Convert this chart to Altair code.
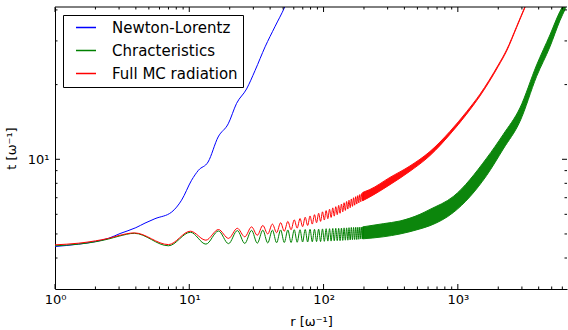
import altair as alt
import pandas as pd

# ---------------- data ----------------
SERIES = ["Newton-Lorentz", "Chracteristics", "Full MC radiation"]
COLORS = ["#0000ff", "#008000", "#ff0000"]

# Newton-Lorentz (blue)
NL_R = [1, 1.5, 2, 2.5, 3.05, 4.0, 4.68, 5.55, 7.4, 8.76, 10.4, 11.7, 13.8,
        16.4, 19.5, 22.5, 26.7, 30.9, 36.7, 43.4, 51.4, 57]
NL_T = [4.45, 4.55, 4.66, 4.8, 5.02, 5.3, 5.53, 5.76, 6.13, 6.84, 8.23, 9.03, 9.75,
        12.3, 13.9, 16.8, 19.2, 22.8, 28.4, 34.2, 41.1, 47]

# common start and oscillation extrema positions (r)
START_R = [1, 1.5, 2, 2.5, 3]
PEAK_R = [3.9, 10.2, 16.5, 22.8, 29.1, 35.3, 41.6, 47.9, 54.2, 60.5, 66.8, 73.0,
          79.3, 85.6, 91.9, 98.2, 104.5, 110.8, 117.1, 123.3, 129.6, 135.9, 142.2,
          148.5, 154.7, 161.0, 167.3, 173.6, 179.9, 186.2, 192.4, 198.7]
TROUGH_R = [7.0, 13.3, 19.6, 25.9, 32.1, 38.4, 44.7, 51.0, 57.3, 63.6, 69.8, 76.1,
            82.4, 88.7, 95.0, 101.3, 107.6, 113.8, 120.1, 126.4, 132.7, 139.0,
            145.3, 151.6, 157.9, 164.2, 170.4, 176.7, 183.0, 189.3, 195.6]

# Chracteristics (green)
CH_START_T = [4.48, 4.55, 4.65, 4.77, 4.9]
CH_PEAK_T = [5.03, 5.08, 5.14, 5.16, 5.17, 5.18, 5.18, 5.19, 5.19, 5.2, 5.2, 5.21,
             5.22, 5.22, 5.23, 5.24, 5.25, 5.25, 5.26, 5.27, 5.27, 5.28, 5.29,
             5.29, 5.30, 5.31, 5.31, 5.32, 5.32, 5.33, 5.33, 5.34]
CH_TROUGH_T = [4.48, 4.55, 4.57, 4.58, 4.59, 4.6, 4.61, 4.62, 4.62, 4.63, 4.64, 4.64,
               4.65, 4.66, 4.66, 4.67, 4.68, 4.68, 4.69, 4.70, 4.70, 4.71, 4.72,
               4.72, 4.73, 4.74, 4.75, 4.75, 4.76, 4.77, 4.78]
CH_BAND_R = [195.6, 278, 371, 522, 620, 925, 1637, 2178, 2900, 3862, 4850, 5755, 6300]
CH_BAND_HI = [5.34, 5.5, 5.64, 6.0, 6.28, 7.08, 10.1, 12.6, 16.1, 24.0, 31.7, 39.4, 43.0]
CH_BAND_LO = [4.78, 4.87, 5.0, 5.24, 5.4, 6.1, 8.6, 11.0, 14.2, 21.6, 28.4, 36.2, 40.3]

# Full MC radiation (red)
MC_START_T = [4.52, 4.59, 4.69, 4.8, 4.93]
MC_PEAK_T = [5.05, 5.13, 5.21, 5.27, 5.34, 5.41, 5.48, 5.55, 5.62, 5.70, 5.77, 5.84,
             5.91, 5.98, 6.06, 6.14, 6.21, 6.29, 6.37, 6.44, 6.52, 6.60, 6.68,
             6.76, 6.84, 6.92, 7.00, 7.07, 7.14, 7.21, 7.28, 7.35]
MC_TROUGH_T = [4.53, 4.72, 4.80, 4.87, 4.94, 5.00, 5.06, 5.13, 5.20, 5.28, 5.35, 5.41,
               5.48, 5.55, 5.62, 5.69, 5.76, 5.83, 5.90, 5.98, 6.06, 6.14, 6.22,
               6.30, 6.38, 6.46, 6.53, 6.60, 6.67, 6.74, 6.81]
MC_BAND_R = [195.6, 221, 312, 440, 620, 873, 1162, 1462, 2000, 2307, 2740, 3160, 3400]
MC_BAND_HI = [7.35, 7.55, 8.45, 9.4, 10.75, 12.95, 15.55, 18.3, 24.0, 27.6, 34.3, 41.2, 45.0]
MC_BAND_LO = [6.81, 7.05, 7.9, 8.95, 10.35, 12.6, 15.2, 18.0, 23.7, 27.3, 34.0, 40.9, 44.7]

# axis ticks
X_MAJOR = [1, 10, 100, 1000]
X_MINOR = [2, 3, 4, 5, 6, 7, 8, 9, 20, 30, 40, 50, 60, 70, 80, 90,
           200, 300, 400, 500, 600, 700, 800, 900, 2000, 3000, 4000, 5000, 6000]
Y_MAJOR = [10]
Y_MINOR = [4, 5, 6, 7, 8, 9, 20, 30, 40]

W, H = 512, 282
FONT = "DejaVu Sans"


def series_df(name, rs, ts):
    d = pd.DataFrame({"r": rs, "t": ts})
    d["series"] = name
    return d.sort_values("r")


lines_df = pd.concat([
    series_df(SERIES[0], NL_R, NL_T),
    series_df(SERIES[1], START_R + PEAK_R + TROUGH_R, CH_START_T + CH_PEAK_T + CH_TROUGH_T),
    series_df(SERIES[2], START_R + PEAK_R + TROUGH_R, MC_START_T + MC_PEAK_T + MC_TROUGH_T),
], ignore_index=True)
ch_band = pd.DataFrame({"r": CH_BAND_R, "hi": CH_BAND_HI, "lo": CH_BAND_LO})
mc_band = pd.DataFrame({"r": MC_BAND_R, "hi": MC_BAND_HI, "lo": MC_BAND_LO})

xs = alt.Scale(type="log", domain=[1, 6500], nice=False)
ys = alt.Scale(type="log", domain=[3, 41.1], nice=False)
cs = alt.Scale(domain=SERIES, range=COLORS)

x_axis = alt.Axis(
    values=X_MAJOR,
    labelExpr="datum.value == 1 ? '10⁰' : datum.value == 10 ? '10¹' : datum.value == 100 ? '10²' : '10³'",
    ticks=False, grid=False, domain=True, domainColor="black", domainWidth=1,
    labelFlush=False, labelOverlap=False, labelPadding=4,
    title="r [ω⁻¹]", titlePadding=9,
)
y_axis = alt.Axis(
    values=Y_MAJOR, labelExpr="'10¹'",
    ticks=False, grid=False, domain=True, domainColor="black", domainWidth=1,
    labelPadding=6, title="t [ω⁻¹]", titlePadding=9,
)
legend = alt.Legend(
    title=None, orient="none", legendX=8, legendY=8,
    symbolSize=400, symbolStrokeWidth=1.5,
    symbolOffset=7, labelOffset=15, clipHeight=15, rowPadding=7,
    padding=5, strokeColor="black", fillColor="white", cornerRadius=0,
    labelFont=FONT, labelFontSize=15, labelColor="black", labelLimit=300,
)

X = alt.X("r:Q", scale=xs, axis=x_axis)

lines = alt.Chart(lines_df).mark_line(clip=True, strokeWidth=1, interpolate="monotone").encode(
    x=X,
    y=alt.Y("t:Q", scale=ys, axis=y_axis),
    color=alt.Color("series:N", scale=cs, legend=legend, sort=SERIES),
)


def band_layer(df, color):
    return alt.Chart(df).mark_area(
        clip=True, interpolate="monotone", color=color, stroke=color, strokeWidth=1, opacity=0.95
    ).encode(
        x=X,
        y=alt.Y("hi:Q", scale=ys, axis=y_axis),
        y2="lo:Q",
    )


def xtick_layer(vals, y0, y1):
    return alt.Chart(pd.DataFrame({"r": vals})).mark_rule(color="black", strokeWidth=1).encode(
        x=X, y=alt.value(y0), y2=alt.value(y1)
    )


def ytick_layer(vals, x0, x1):
    return alt.Chart(pd.DataFrame({"t": vals})).mark_rule(color="black", strokeWidth=1).encode(
        y=alt.Y("t:Q", scale=ys, axis=y_axis), x=alt.value(x0), x2=alt.value(x1)
    )


top_border = alt.Chart(pd.DataFrame({"a": [0]})).mark_rule(color="black", strokeWidth=1).encode(
    x=alt.value(0), x2=alt.value(W), y=alt.value(0)
)

chart = alt.layer(
    band_layer(ch_band, COLORS[1]),
    band_layer(mc_band, COLORS[2]),
    lines,
    top_border,
    xtick_layer(X_MAJOR, H, H - 5),
    xtick_layer(X_MINOR, H, H - 2.5),
    xtick_layer(X_MAJOR, 0, 5),
    xtick_layer(X_MINOR, 0, 2.5),
    ytick_layer(Y_MAJOR, 0, 5),
    ytick_layer(Y_MINOR, 0, 2.5),
    ytick_layer(Y_MAJOR, W, W - 5),
    ytick_layer(Y_MINOR, W, W - 2.5),
).properties(
    width=W, height=H,
    autosize=alt.AutoSizeParams(type="none"),
    padding={"left": 55, "top": 7, "right": 1, "bottom": 41},
).configure_view(stroke=None).configure_axis(
    labelFont=FONT, titleFont=FONT, labelFontSize=13, titleFontSize=13,
    titleFontWeight="normal", labelColor="black", titleColor="black",
)

chart.save("out.html", embed_options={"renderer": "svg", "actions": False})
